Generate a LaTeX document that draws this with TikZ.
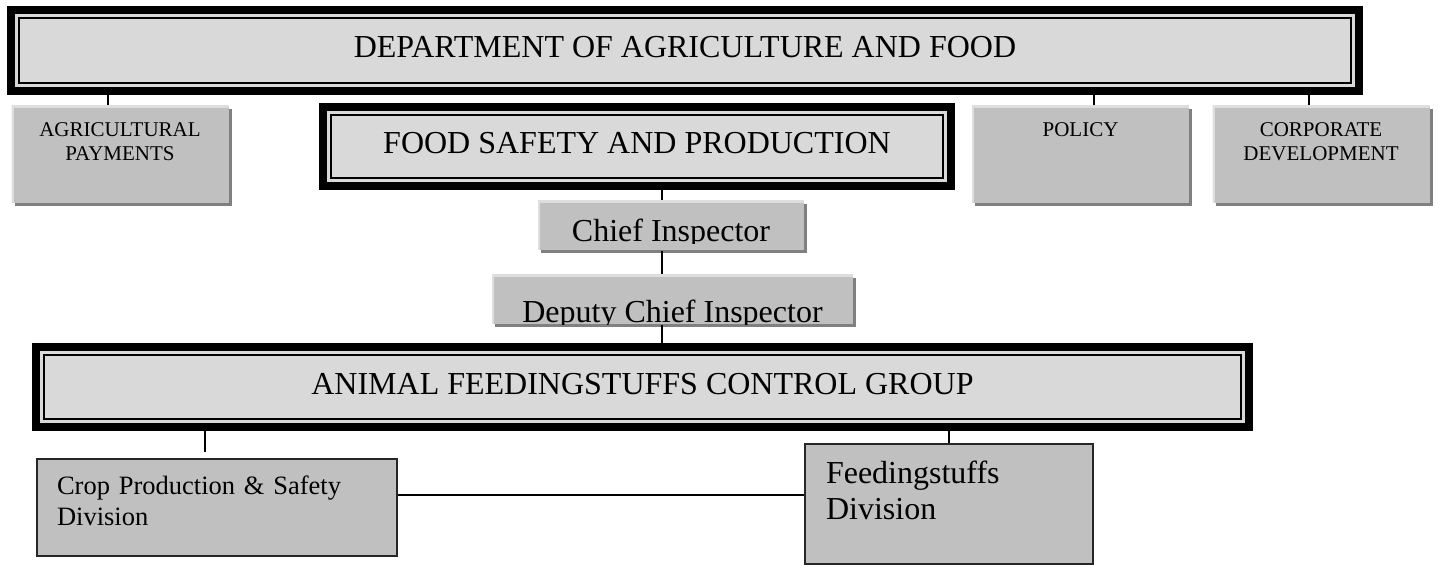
\documentclass[tikz,border=0pt]{standalone}
\usepackage{fontspec}
\setmainfont{Liberation Serif}
\usetikzlibrary{shadows}

\definecolor{boxgray}{HTML}{C0C0C0}
\definecolor{shadegray}{HTML}{808080}
\definecolor{lightedge}{HTML}{DEDEDE}
\definecolor{dotfill}{HTML}{D9D9D9}

\begin{document}
\begin{tikzpicture}[x=0.5pt, y=-0.5pt, line width=0.75pt,
  headbox/.style={draw=black, line width=4pt, fill=dotfill, inner sep=0pt,
    text height=10.6pt, text depth=3.5pt, font=\fontsize{16}{19}\selectfont,
    path picture={\draw[line width=0.75pt]
      ([shift={(3.9pt,-3.9pt)}]path picture bounding box.north west) rectangle
      ([shift={(-3.9pt,3.9pt)}]path picture bounding box.south east);}},
  raised/.style={fill=boxgray, inner sep=0pt,
    drop shadow={shadow xshift=1.5pt, shadow yshift=-1.5pt, fill=shadegray, opacity=1},
    path picture={\draw[line width=2pt, lightedge]
      (path picture bounding box.south west) -- (path picture bounding box.north west)
      -- (path picture bounding box.north east);}},
  unitbox/.style={raised, minimum width=108.5pt, align=center,
    text height=15.5pt, text depth=33pt, font=\fontsize{10.5}{12}\selectfont},
  twolines/.style={text height=27.5pt, text depth=21pt},
  rankbox/.style={raised},
  ranktext/.style={anchor=base, inner sep=0pt, font=\fontsize{16}{19}\selectfont},
  divbox/.style={draw=black!85, line width=0.6pt, fill=boxgray, inner ysep=0pt, align=left}]

\useasboundingbox (0,0) rectangle (1438,565);

% department and its units
\node (dept) at (685,50.5) [headbox, minimum width=674pt, minimum height=40.5pt]
  {DEPARTMENT OF AGRICULTURE AND FOOD};
\node (agri) at (120,154.5) [unitbox, twolines] {AGRICULTURAL\\PAYMENTS};
\node (food) at (637,146.5) [headbox, minimum width=314pt, minimum height=39.5pt]
  {FOOD SAFETY AND PRODUCTION};
\node (policy) at (1080.5,154.5) [unitbox] {POLICY};
\node (corp) at (1321,154.5) [unitbox, twolines] {CORPORATE\\DEVELOPMENT};

% inspectors
\node (chief) at (671,225.5) [rankbox, minimum width=133pt, minimum height=24.5pt] {};
\node (dep) at (672.5,299.5) [rankbox, minimum width=180.5pt, minimum height=24.5pt] {};
\begin{scope}
  \clip (chief.north west) rectangle ([yshift=3.5pt]chief.south east);
  \node (chieft) at ([yshift=4.5pt]chief.south) [ranktext] {Chief Inspector};
\end{scope}
\begin{scope}
  \clip (dep.north west) rectangle ([yshift=0.25pt]dep.south east);
  \node (dept2) at ([yshift=1.25pt]dep.south) [ranktext] {Deputy Chief Inspector};
\end{scope}

% control group and divisions
\node (group) at (642.5,387) [headbox, minimum width=606.5pt, minimum height=40pt]
  {ANIMAL FEEDINGSTUFFS CONTROL GROUP};
\node (crop) at (217,507.5) [divbox, inner xsep=10pt, text width=160pt,
  text height=18pt, text depth=30.5pt, font=\fontsize{13.25}{15}\selectfont]
  {Crop Production \& Safety\\Division};
\node (feed) at (949,504) [divbox, inner xsep=10.5pt, text width=123pt,
  text height=20pt, text depth=40pt, font=\fontsize{16}{18}\selectfont]
  {Feedingstuffs\\Division};

% connectors
\coordinate (spine) at ([xshift=-4.5pt]chief.north);
\draw ([xshift=-6pt]agri.north) -- ([xshift=-6pt]agri.north |- dept.south);
\draw ([xshift=6.75pt]policy.north) -- ([xshift=6.75pt]policy.north |- dept.south);
\draw ([xshift=-6pt]corp.north) -- ([xshift=-6pt]corp.north |- dept.south);
\draw (spine |- food.south) -- (spine);
\draw (spine |- chief.south) -- (spine |- dep.north);
\draw (spine |- dep.south) -- (spine |- group.north);
\draw ([xshift=-6pt,yshift=3pt]crop.north) -- ([xshift=-6pt]crop.north |- group.south);
\draw (feed.north) -- (feed.north |- group.south);
\draw ([yshift=6.25pt]crop.east) -- ([yshift=6.25pt]crop.east -| feed.west);
\end{tikzpicture}
\end{document}
